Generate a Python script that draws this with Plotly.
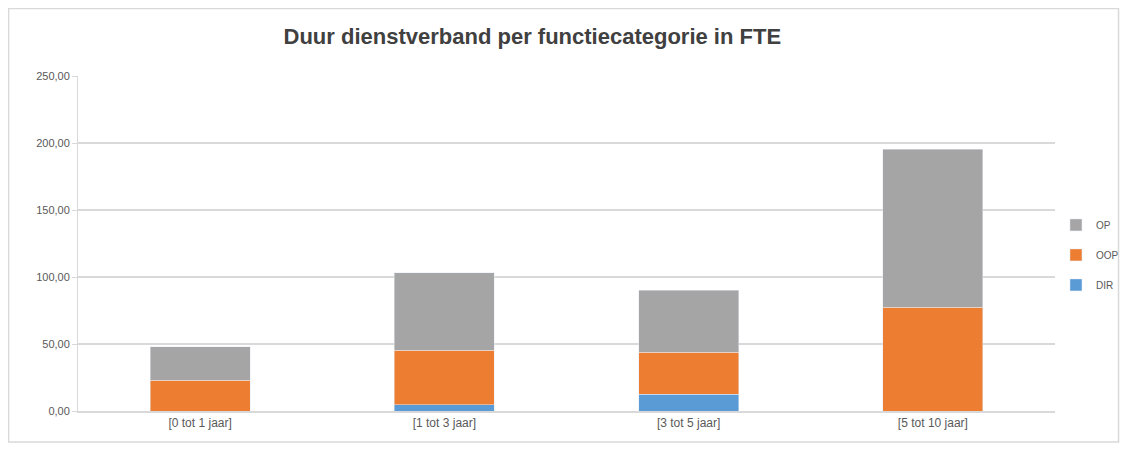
import plotly.graph_objects as go

categories = ["[0 tot 1 jaar]", "[1 tot 3 jaar]", "[3 tot 5 jaar]", "[5 tot 10 jaar]"]
dir_values = [0.0, 4.5, 12.5, 0.0]
oop_values = [23.0, 41.0, 31.5, 77.6]
op_values = [24.8, 57.5, 46.3, 117.9]
tick_values = [0, 50, 100, 150, 200, 250]

fig = go.Figure()
fig.add_trace(go.Bar(name="DIR", x=categories, y=dir_values, marker_color="#5b9bd5",
                     legendgroup="a", legendrank=3))
fig.add_trace(go.Bar(name="OOP", x=categories, y=oop_values, marker_color="#ed7d31",
                     legendgroup="b", legendrank=2))
fig.add_trace(go.Bar(name="OP", x=categories, y=op_values, marker_color="#a5a5a5",
                     legendgroup="c", legendrank=1))

fig.update_layout(
    barmode="stack",
    bargap=0.59,
    width=1129, height=450,
    margin=dict(l=70, r=82, t=68, b=47),
    paper_bgcolor="white", plot_bgcolor="white",
    separators=",.",
    font=dict(family="Liberation Sans, Arial, sans-serif", size=10, color="#595959"),
    title=dict(text="<b>Duur dienstverband per functiecategorie in FTE</b>",
               x=0.465, xref="paper", xanchor="center", y=0.937, yanchor="middle",
               font=dict(size=22, color="#404040", family="Liberation Sans, Arial, sans-serif")),
    legend=dict(x=1.001, y=0.466, xanchor="left", yanchor="middle",
                traceorder="grouped", tracegroupgap=11,
                bgcolor="rgba(0,0,0,0)",
                font=dict(size=10, color="#595959"),
                itemwidth=30),
    showlegend=True,
    shapes=[dict(type="rect", xref="paper", yref="paper",
                 x0=-0.0711, x1=1.065, y0=-0.0925, y1=1.2015,
                 line=dict(color="#d9d9d9", width=1.5), fillcolor="rgba(0,0,0,0)",
                 layer="below")],
)
fig.update_yaxes(range=[0, 250], tickvals=tick_values, tickformat=".2f",
                 showgrid=True, gridcolor="#d9d9d9", gridwidth=1.5,
                 zeroline=False, showline=True, linecolor="#d9d9d9",
                 ticks="outside", ticklen=5, tickcolor="#d9d9d9",
                 tickfont=dict(size=11))
fig.update_xaxes(showline=True, linecolor="#d9d9d9", linewidth=1.5,
                 ticks="", tickfont=dict(size=12))

fig.write_html("out.html")
